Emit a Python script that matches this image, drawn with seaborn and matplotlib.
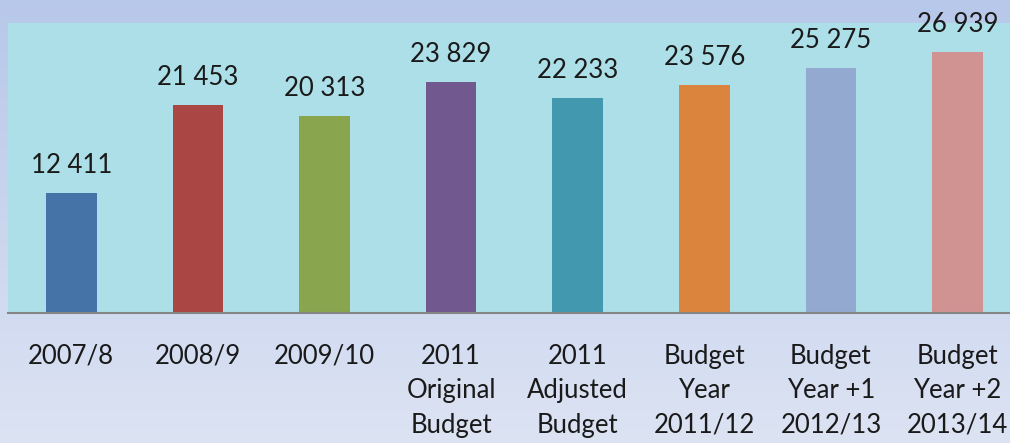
import numpy as np
import pandas as pd
import matplotlib
matplotlib.use("Agg")
import matplotlib.pyplot as plt
import seaborn as sns

categories = ["2007/8", "2008/9", "2009/10", "2011\nOriginal\nBudget",
              "2011\nAdjusted\nBudget", "Budget\nYear\n2011/12",
              "Budget\nYear +1\n2012/13", "Budget\nYear +2\n2013/14"]
values = [12411, 21453, 20313, 23829, 22233, 23576, 25275, 26939]
colors = ["#4572A7", "#AA4643", "#89A54E", "#71588F",
          "#4198AF", "#DB843D", "#93A9CF", "#D19392"]

df = pd.DataFrame({"Period": categories, "Amount": values})

sns.set_theme(style="white")
plt.rcParams["font.family"] = ["Lato", "DejaVu Sans"]

W, H = 1010, 443
fig = plt.figure(figsize=(W / 100, H / 100), dpi=100)

# figure background gradient
bg = fig.add_axes([0, 0, 1, 1], zorder=-10)
grad = np.linspace(0, 1, 256).reshape(-1, 1)
cmap = matplotlib.colors.LinearSegmentedColormap.from_list("bg", ["#b8c8ea", "#dce3f3"])
bg.imshow(grad, aspect="auto", cmap=cmap, extent=[0, 1, 0, 1])
bg.axis("off")

# plot area, right edge runs past the figure like the original
left, right = 8, 8 + 8 * 126.6
bottom, top = 313, 22.7
ax = fig.add_axes([left / W, (H - bottom) / H, (right - left) / W, (bottom - top) / H])
ax.set_facecolor("#addfe8")

sns.barplot(data=df, x="Period", y="Amount", hue="Period", palette=colors,
            width=0.4, legend=False, ax=ax, saturation=1, linewidth=0)

ax.set_xlim(-0.5, 7.5)
ax.set_ylim(0, 30000)
ax.set_yticks([])
ax.set_xlabel("")
ax.set_ylabel("")
for s in ["top", "right", "left"]:
    ax.spines[s].set_visible(False)
ax.spines["bottom"].set_color("#868686")
ax.spines["bottom"].set_linewidth(1.5)

ax.tick_params(axis="x", length=0, pad=22, labelsize=18.5, colors="#1a1a1a")
for lbl in ax.get_xticklabels():
    lbl.set_linespacing(1.48)
    lbl.set_multialignment("center")

for cont in ax.containers:
    ax.bar_label(cont, labels=[f"{v:,.0f}".replace(",", " ") for v in cont.datavalues],
                 padding=11, fontsize=18.5, color="#1a1a1a")

fig.savefig("out.png", dpi=100)
